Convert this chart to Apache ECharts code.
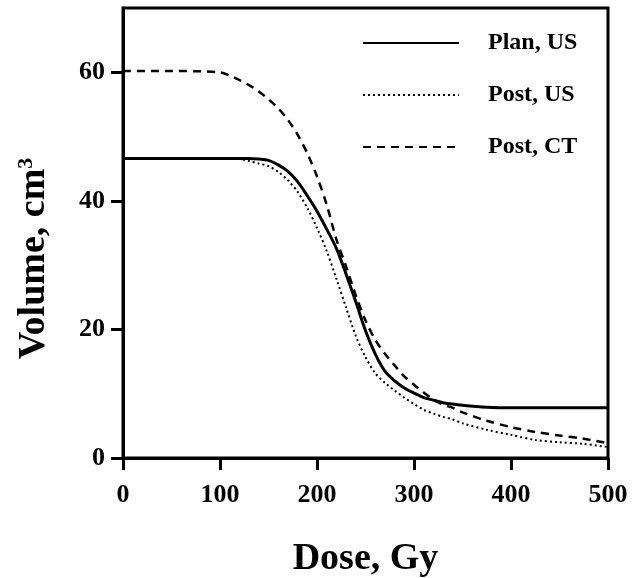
<!DOCTYPE html>
<html>
<head>
<meta charset="utf-8">
<script src="https://cdn.jsdelivr.net/npm/echarts@6/dist/echarts.min.js"></script>
<style>
  html, body { margin: 0; padding: 0; background: #fff; }
  #chart { width: 640px; height: 578px; }
</style>
</head>
<body>
<div id="chart"></div>
<script>
// dose (Gy) sample points
var dose = [0, 50, 100, 110, 120, 130, 140, 150, 160, 170, 180, 190, 200, 210, 220, 230, 240, 250,
            260, 270, 280, 290, 300, 310, 320, 330, 340, 350, 375, 400, 425, 450, 475, 500];

// volume (cm3) for each curve
var planUS = [46.6, 46.6, 46.6, 46.6, 46.6, 46.6, 46.5, 46.3, 45.6, 44.6, 43.0, 40.8, 38.4, 35.6, 32.6, 28.6, 24.3, 19.8,
              16.2, 13.5, 12.0, 10.9, 10.1, 9.4, 9.0, 8.6, 8.4, 8.2, 7.9, 7.8, 7.8, 7.8, 7.8, 7.8];
var postUS = [46.5, 46.5, 46.5, 46.5, 46.5, 46.2, 45.8, 45.4, 44.5, 43.2, 41.4, 38.9, 35.8, 32.2, 27.9, 23.4, 19.0, 15.7,
              13.2, 11.7, 10.5, 9.4, 8.4, 7.5, 6.9, 6.4, 6.0, 5.4, 4.4, 3.6, 2.8, 2.45, 2.2, 1.7];
var postCT = [60.2, 60.2, 60.0, 59.5, 58.8, 58.0, 57.0, 55.8, 54.4, 52.6, 50.3, 47.4, 43.8, 39.4, 34.0, 29.8, 25.3, 21.4,
              18.4, 16.2, 14.4, 12.7, 11.4, 10.2, 9.1, 8.3, 7.8, 7.1, 5.8, 4.8, 4.05, 3.5, 3.0, 2.3];

var seriesNames = ['Plan, US', 'Post, US', 'Post, CT'];
var yTicks = [0, 20, 40, 60];
var xTicks = [0, 100, 200, 300, 400, 500];

var font = 'Liberation Serif, Times New Roman, serif';

function pairs(ys) {
  return dose.map(function (d, i) { return [d, ys[i]]; });
}

var chart = echarts.init(document.getElementById('chart'));

chart.setOption({
  animation: false,
  backgroundColor: '#fff',
  color: ['#000', '#000', '#000'],
  textStyle: { fontFamily: font, color: '#000' },
  grid: {
    left: 123, right: 32, top: 8, bottom: 120,
    outerBoundsMode: 'none',
    show: true, borderColor: '#000', borderWidth: 3
  },
  legend: {
    orient: 'vertical',
    left: 362, top: 31, padding: 0,
    itemWidth: 96, itemHeight: 24, itemGap: 28,
    itemStyle: { opacity: 0 },
    textStyle: {
      fontFamily: font, fontWeight: 'bold', fontSize: 24, color: '#000',
      padding: [0, 0, 0, 24]
    },
    data: seriesNames
  },
  xAxis: {
    type: 'value', min: 0, max: 500, interval: 100,
    name: 'Dose, Gy', nameLocation: 'middle', nameGap: 82,
    nameTextStyle: { fontFamily: font, fontWeight: 'bold', fontSize: 38, color: '#000' },
    axisLine: { show: true, onZero: false, lineStyle: { color: '#000', width: 3 } },
    axisTick: { show: true, inside: false, length: 12, lineStyle: { color: '#000', width: 3 } },
    axisLabel: { margin: 24, fontFamily: font, fontWeight: 'bold', fontSize: 26, color: '#000', customValues: xTicks },
    splitLine: { show: false }
  },
  yAxis: {
    type: 'value', min: 0, max: 70, interval: 20,
    name: 'Volume, cm{sup|3}', nameLocation: 'middle', nameGap: 70, nameRotate: 90,
    nameTextStyle: {
      fontFamily: font, fontWeight: 'bold', fontSize: 38, color: '#000',
      padding: [0, 51, 0, 0],
      rich: {
        sup: { fontFamily: font, fontWeight: 'bold', fontSize: 22, color: '#000', verticalAlign: 'top', lineHeight: 38 }
      }
    },
    axisLine: { show: true, onZero: false, lineStyle: { color: '#000', width: 3 } },
    axisTick: { show: true, inside: false, length: 12, lineStyle: { color: '#000', width: 3 }, customValues: yTicks },
    axisLabel: { margin: 18, fontFamily: font, fontWeight: 'bold', fontSize: 26, color: '#000', customValues: yTicks },
    splitLine: { show: false }
  },
  series: [
    {
      name: seriesNames[0], type: 'line', symbol: 'none', smooth: 0.3,
      lineStyle: { color: '#000', width: 3, type: 'solid' },
      data: pairs(planUS)
    },
    {
      name: seriesNames[1], type: 'line', symbol: 'none', smooth: 0.3,
      lineStyle: { color: '#000', width: 2, type: [2, 3] },
      data: pairs(postUS)
    },
    {
      name: seriesNames[2], type: 'line', symbol: 'none', smooth: 0.3,
      lineStyle: { color: '#000', width: 2.5, type: [8, 6] },
      data: pairs(postCT)
    }
  ]
});
</script>
</body>
</html>
